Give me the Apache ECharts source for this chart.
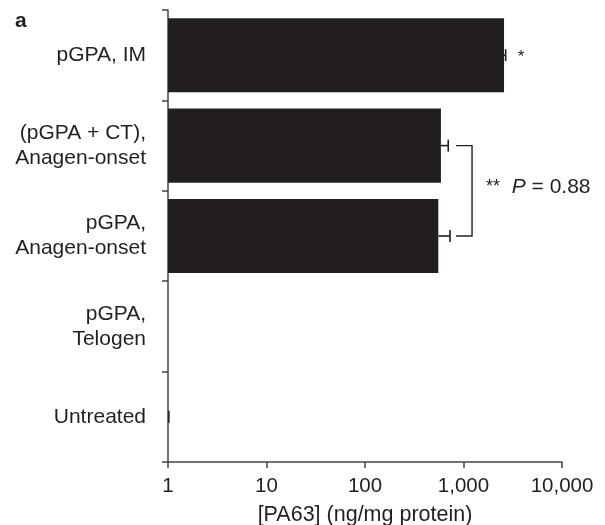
<!DOCTYPE html>
<html>
<head>
<meta charset="utf-8">
<script src="https://cdn.jsdelivr.net/npm/echarts@6/dist/echarts.min.js"></script>
<style>
  html, body { margin: 0; padding: 0; background: #fff; }
  #chart { width: 605px; height: 525px; }
</style>
</head>
<body>
<div id="chart"></div>
<script>
// categories top to bottom
const categories = ['pGPA, IM', '(pGPA + CT),\nAnagen-onset', 'pGPA,\nAnagen-onset', 'pGPA,\nTelogen', 'Untreated'];
const values = [2580, 590, 555, null, 1];
const errHigh = [2680, 700, 730, null, 1.02];
const sigMarks = ['*', '', '', '', ''];
const xTicks = [1, 10, 100, 1000, 10000];
const bracketPair = [1, 2];
const pLabel = '0.88';

const ink = '#231f20';
const font = '"Liberation Sans", Arial, sans-serif';

const chart = echarts.init(document.getElementById('chart'));

const errData = values.map((v, i) => (v == null ? null : [errHigh[i], i, v]));

const option = {
    animation: false,
    grid: { left: 168, right: 43, top: 10, bottom: 63, outerBoundsMode: 'none', containLabel: false },
    graphic: [{
        type: 'text', left: 15, top: 11,
        style: { text: 'a', font: 'bold 21px ' + font, fill: ink }
    }],
    xAxis: {
        type: 'log',
        logBase: 10,
        min: xTicks[0],
        max: xTicks[xTicks.length - 1],
        name: '[PA63] (ng/mg protein)',
        nameLocation: 'middle',
        nameGap: 42,
        nameTextStyle: { fontFamily: font, fontSize: 21.5, color: ink },
        axisLine: { show: true, lineStyle: { color: '#444', width: 1.5 } },
        axisTick: { show: true, length: 6, lineStyle: { color: '#444', width: 1.5 } },
        minorTick: { show: false },
        splitLine: { show: false },
        axisLabel: {
            fontFamily: font, fontSize: 20.5, color: ink, margin: 14,
            formatter: v => Number(v).toLocaleString('en-US')
        }
    },
    yAxis: {
        type: 'category',
        inverse: true,
        data: categories,
        axisLine: { show: true, lineStyle: { color: '#444', width: 1.5 } },
        axisTick: { show: true, alignWithLabel: false, length: 6, lineStyle: { color: '#444', width: 1.5 } },
        splitLine: { show: false },
        axisLabel: {
            fontFamily: font, fontSize: 21, color: ink, margin: 22,
            lineHeight: 25, align: 'right'
        }
    },
    series: [
        {
            type: 'bar',
            data: values,
            barCategoryGap: '18%',
            itemStyle: { color: ink },
            z: 2
        },
        {
            type: 'custom',
            data: errData,
            z: 3,
            renderItem: function (params, api) {
                const idx = api.value(1);
                const start = api.coord([api.value(2), idx]);
                const end = api.coord([api.value(0), idx]);
                const cap = 6;
                const style = { stroke: ink, lineWidth: 1.6 };
                const children = [
                    { type: 'line', shape: { x1: start[0], y1: start[1], x2: end[0], y2: end[1] }, style },
                    { type: 'line', shape: { x1: end[0], y1: end[1] - cap, x2: end[0], y2: end[1] + cap }, style }
                ];
                const mark = sigMarks[idx];
                if (mark) {
                    children.push({
                        type: 'text',
                        style: {
                            text: mark, x: end[0] + 12, y: end[1] + 2,
                            font: '17px ' + font, fill: ink, verticalAlign: 'middle'
                        }
                    });
                }
                // significance bracket between the paired bars
                if (idx === bracketPair[1]) {
                    const a = api.coord([errHigh[bracketPair[0]], bracketPair[0]]);
                    const b = api.coord([errHigh[bracketPair[1]], bracketPair[1]]);
                    const x0 = Math.max(a[0], b[0]) + 6;
                    const x1 = x0 + 16;
                    const bs = { stroke: ink, lineWidth: 1.4, fill: null };
                    children.push({
                        type: 'polyline',
                        shape: { points: [[x0, a[1]], [x1, a[1]], [x1, b[1]], [x0, b[1]]] },
                        style: bs
                    });
                    children.push({
                        type: 'text',
                        style: {
                            text: '{s|**}  {i|P} = ' + pLabel,
                            x: x1 + 14, y: (a[1] + b[1]) / 2 - 4,
                            verticalAlign: 'middle',
                            font: '21px ' + font, fill: ink,
                            rich: {
                                s: { fontSize: 18, fontFamily: font, fill: ink },
                                i: { fontSize: 21, fontFamily: font, fontStyle: 'italic', fill: ink }
                            }
                        }
                    });
                }
                return { type: 'group', children };
            }
        }
    ]
};

chart.setOption(option);
</script>
</body>
</html>
